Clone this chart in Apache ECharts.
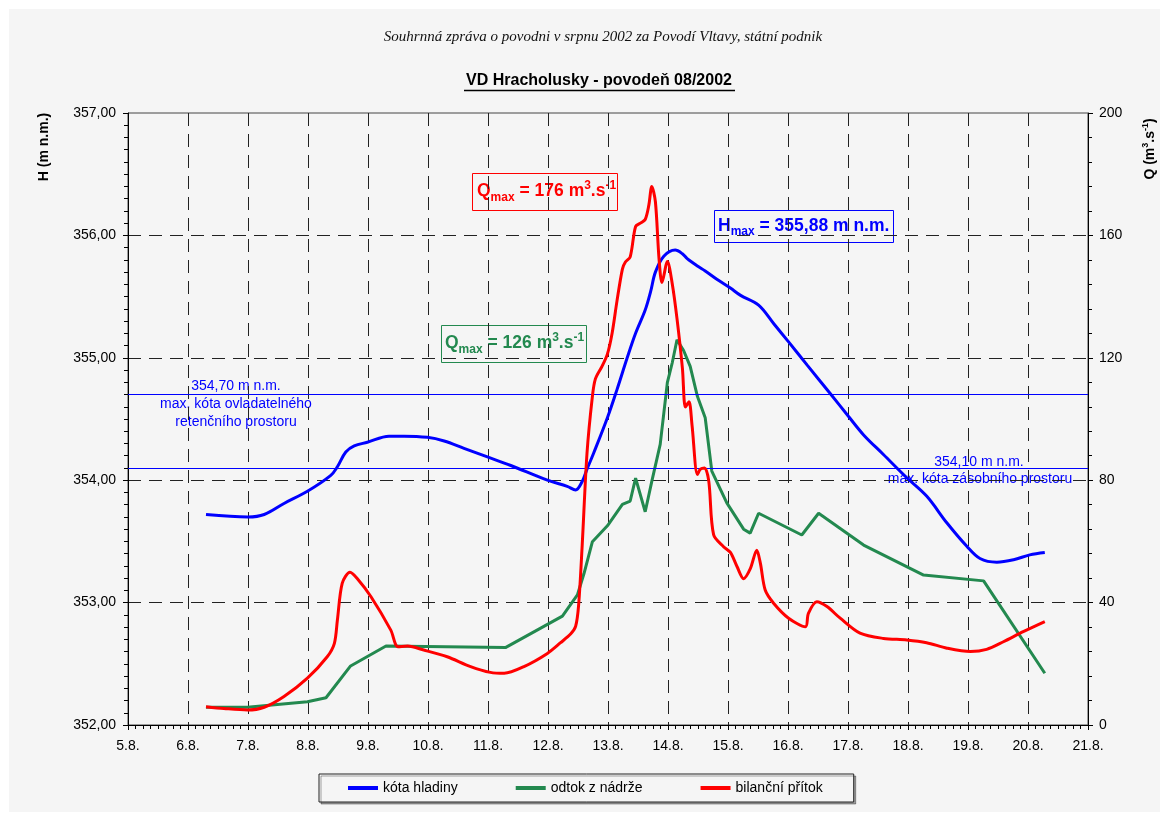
<!DOCTYPE html>
<html><head><meta charset="utf-8">
<script src="https://cdn.jsdelivr.net/npm/echarts@6/dist/echarts.min.js"></script>
<style>html,body{margin:0;padding:0;background:#fff}#c{width:1169px;height:814px}</style>
</head><body><div id="c"></div>
<script>
// ---- data (day of August 2002, value) ----
const dayTickLabels = ['5.8.','6.8.','7.8.','8.8.','9.8.','10.8.','11.8.','12.8.','13.8.','14.8.','15.8.','16.8.','17.8.','18.8.','19.8.','20.8.','21.8.'];

const levelDays = [6.30,7.00,7.27,7.60,7.99,8.38,8.49,8.63,8.77,8.99,9.35,9.60,9.99,10.27,10.60,10.99,11.38,11.99,12.32,12.46,12.57,12.65,12.76,12.99,13.15,13.32,13.46,13.62,13.71,13.79,13.93,14.12,14.24,14.32,14.49,14.62,14.82,15.04,15.21,15.51,15.76,16.01,16.32,16.70,17.01,17.26,17.59,17.98,18.31,18.65,18.98,19.20,19.48,19.76,20.03,20.28];
const levelValues = [353.72,353.70,353.72,353.81,353.91,354.04,354.11,354.23,354.28,354.31,354.36,354.36,354.35,354.32,354.26,354.19,354.12,354.00,353.95,353.92,353.99,354.09,354.22,354.51,354.74,355.00,355.20,355.39,355.54,355.70,355.83,355.88,355.85,355.81,355.75,355.71,355.64,355.57,355.51,355.43,355.28,355.13,354.94,354.71,354.52,354.37,354.21,354.02,353.87,353.65,353.46,353.36,353.33,353.35,353.39,353.41];

const outflowDays = [6.30,6.99,7.99,8.30,8.71,9.30,11.29,12.24,12.49,12.60,12.74,12.99,13.24,13.37,13.46,13.62,13.73,13.87,13.99,14.07,14.15,14.26,14.37,14.49,14.62,14.73,14.98,15.26,15.37,15.51,16.23,16.51,17.26,18.26,19.26,20.28];
const outflowValues = [5.8,5.8,7.6,8.9,19.3,25.8,25.3,35.6,42.5,49.5,59.9,65.1,72.1,73.2,80.7,69.7,79.6,91.7,112.0,118.3,125.9,122.4,117.2,107.4,100.4,83.0,72.6,64.0,62.7,69.2,62.1,69.2,58.8,49.0,47.1,16.9];

const inflowDays = [6.30,6.60,6.99,7.27,7.60,7.99,8.32,8.44,8.49,8.57,8.70,8.82,9.05,9.38,9.50,9.66,9.93,10.32,10.71,11.04,11.27,11.60,11.99,12.21,12.38,12.46,12.51,12.57,12.65,12.74,12.79,12.90,12.99,13.07,13.15,13.24,13.29,13.37,13.46,13.54,13.62,13.68,13.73,13.79,13.85,13.90,13.99,14.07,14.15,14.24,14.29,14.35,14.40,14.49,14.54,14.61,14.68,14.76,14.93,15.04,15.15,15.26,15.37,15.48,15.54,15.62,15.76,16.01,16.29,16.34,16.48,16.65,16.87,17.20,17.59,17.98,18.31,18.65,19.04,19.31,19.59,19.92,20.28];
const inflowValues = [6.0,5.4,4.9,5.8,9.3,15.3,22.3,26.7,34.3,46.3,49.9,47.9,41.9,31.0,25.6,25.8,24.5,22.3,19.1,17.2,16.9,19.1,23.4,26.9,29.8,32.2,39.1,58.8,88.8,107.4,113.1,117.2,121.2,128.2,138.6,149.0,151.3,153.0,162.9,164.0,165.2,169.8,176.0,171.0,152.5,144.6,151.5,144.3,132.8,116.6,103.9,105.6,98.1,81.9,83.6,84.0,79.6,62.2,58.2,56.4,51.8,47.8,51.0,57.1,52.8,44.1,39.8,34.9,32.1,36.5,40.3,38.7,34.9,30.0,28.3,27.8,26.9,25.1,24.0,24.7,27.2,30.5,33.8];

const refLevels = [354.70, 354.10];

const seriesNames = ['kóta hladiny', 'odtok z nádrže', 'bilanční přítok'];
// ---------------------------------------------

const zip = (xs, ys) => xs.map((x, i) => [x, ys[i]]);
const BLUE = '#0000ff', RED = '#ff0000', GREEN = '#23894f';
const FONT = '"Liberation Sans", Arial, sans-serif';
const dash = [13, 8];

const chart = echarts.init(document.getElementById('c'), null, {renderer: 'canvas'});

const supRich = (color) => ({
  b: {fontFamily: FONT, fontWeight: 'bold', fontSize: 17.5, fill: color, lineHeight: 24, verticalAlign: 'middle'},
  sub: {fontFamily: FONT, fontWeight: 'bold', fontSize: 12, fill: color, lineHeight: 21, verticalAlign: 'bottom'},
  sup: {fontFamily: FONT, fontWeight: 'bold', fontSize: 12, fill: color, lineHeight: 21, verticalAlign: 'top'}
});

const option = {
  backgroundColor: '#ffffff',
  animation: false,
  grid: {left: 128, top: 113, width: 960, height: 612, containLabel: false,
    show: true, borderColor: '#444', borderWidth: 1, backgroundColor: 'transparent'},
  legend: {
    data: seriesNames,
    left: 319, top: 774,
    padding: [7, 31, 7, 29],
    itemGap: 58, itemWidth: 30, itemHeight: 4,
    icon: 'rect',
    borderColor: '#222', borderWidth: 1,
    backgroundColor: '#f5f5f5',
    shadowColor: 'rgba(0,0,0,0.35)', shadowOffsetX: 2, shadowOffsetY: 2, shadowBlur: 0,
    textStyle: {fontFamily: FONT, fontSize: 14, color: '#000'}
  },
  xAxis: {
    type: 'value', min: 5, max: 21, interval: 1,
    axisLine: {show: true, lineStyle: {color: '#000', width: 1}},
    axisTick: {show: true, inside: false, length: 5, lineStyle: {color: '#000'}},
    minorTick: {show: true, splitNumber: 8, length: 4, lineStyle: {color: '#000'}},
    axisLabel: {margin: 14, fontFamily: FONT, fontSize: 14, color: '#000',
      formatter: v => dayTickLabels[Math.round(v - 5)]},
    splitLine: {show: true, showMinLine: false, showMaxLine: false, lineStyle: {color: '#222', width: 1, type: dash}}
  },
  yAxis: [{
    type: 'value', min: 352, max: 357, interval: 1, position: 'left',
    axisLine: {show: true, lineStyle: {color: '#000', width: 1}},
    axisTick: {show: true, inside: false, length: 5, lineStyle: {color: '#000'}},
    minorTick: {show: true, splitNumber: 10, length: 4, lineStyle: {color: '#000'}},
    axisLabel: {margin: 12, fontFamily: FONT, fontSize: 14, color: '#000',
      formatter: v => v.toFixed(2).replace('.', ',')},
    splitLine: {show: true, showMinLine: false, showMaxLine: false, lineStyle: {color: '#222', width: 1, type: dash}}
  }, {
    type: 'value', min: 0, max: 200, interval: 40, position: 'right',
    axisLine: {show: true, lineStyle: {color: '#000', width: 1}},
    axisTick: {show: true, inside: false, length: 5, lineStyle: {color: '#000'}},
    minorTick: {show: true, splitNumber: 5, length: 4, lineStyle: {color: '#000'}},
    axisLabel: {margin: 11, fontFamily: FONT, fontSize: 14, color: '#000'},
    splitLine: {show: false}
  }],
  series: [{
    name: seriesNames[0], type: 'line', yAxisIndex: 0,
    data: zip(levelDays, levelValues),
    smooth: 0.35, showSymbol: false, symbol: 'none',
    lineStyle: {color: BLUE, width: 3}, itemStyle: {color: BLUE},
    markLine: {
      silent: true, symbol: 'none', label: {show: false},
      lineStyle: {color: BLUE, width: 1, type: 'solid'},
      data: refLevels.map(v => ({yAxis: v}))
    },
    z: 3
  }, {
    name: seriesNames[1], type: 'line', yAxisIndex: 1,
    data: zip(outflowDays, outflowValues),
    smooth: false, showSymbol: false, symbol: 'none',
    lineStyle: {color: GREEN, width: 3}, itemStyle: {color: GREEN},
    z: 4
  }, {
    name: seriesNames[2], type: 'line', yAxisIndex: 1,
    data: zip(inflowDays, inflowValues),
    smooth: 0.3, showSymbol: false, symbol: 'none',
    lineStyle: {color: RED, width: 3}, itemStyle: {color: RED},
    z: 5
  }],
  graphic: [
    {type: 'rect', silent: true, z: -100, shape: {x: 9, y: 9, width: 1151, height: 803}, style: {fill: '#f5f5f5'}},
    {type: 'text', x: 603, y: 37, silent: true,
      style: {text: 'Souhrnná zpráva o povodni v srpnu 2002 za Povodí Vltavy, státní podnik', font: 'italic 15px "Liberation Serif", serif', fill: '#111', align: 'center', verticalAlign: 'middle'}},
    {type: 'text', x: 599, y: 81, silent: true,
      style: {text: 'VD Hracholusky - povodeň 08/2002', font: 'bold 16px ' + FONT, fill: '#000', align: 'center', verticalAlign: 'middle'}},
    {type: 'line', silent: true, shape: {x1: 464, y1: 90.5, x2: 735, y2: 90.5}, style: {stroke: '#000', lineWidth: 1.5}},
    {type: 'text', x: 44, y: 147, rotation: Math.PI / 2, silent: true,
      style: {text: 'H (m n.m.)', font: 'bold 14px ' + FONT, fill: '#000', align: 'center', verticalAlign: 'middle'}},
    {type: 'text', x: 1150, y: 149, rotation: Math.PI / 2, silent: true,
      style: {text: '{b|Q (m}{s|3}{b|.s}{s|-1}{b|)}', align: 'center', verticalAlign: 'middle',
        rich: {b: {font: 'bold 14px ' + FONT, fill: '#000', lineHeight: 18, verticalAlign: 'middle'},
               s: {font: 'bold 9px ' + FONT, fill: '#000', lineHeight: 18, verticalAlign: 'top'}}}},
    // reference level labels
    {type: 'text', x: 236, y: 386, silent: true, style: {text: '354,70 m n.m.', font: '14px ' + FONT, fill: BLUE, align: 'center', verticalAlign: 'middle'}},
    {type: 'text', x: 236, y: 404, silent: true, style: {text: 'max. kóta ovladatelného', font: '14px ' + FONT, fill: BLUE, align: 'center', verticalAlign: 'middle'}},
    {type: 'text', x: 236, y: 422, silent: true, style: {text: 'retenčního prostoru', font: '14px ' + FONT, fill: BLUE, align: 'center', verticalAlign: 'middle'}},
    {type: 'text', x: 979, y: 462, silent: true, style: {text: '354,10 m n.m.', font: '14px ' + FONT, fill: BLUE, align: 'center', verticalAlign: 'middle'}},
    {type: 'text', x: 980, y: 479, silent: true, style: {text: 'max. kóta zásobního prostoru', font: '14px ' + FONT, fill: BLUE, align: 'center', verticalAlign: 'middle'}},
    // max boxes
    {type: 'rect', silent: true, shape: {x: 472.5, y: 173.5, width: 145, height: 37}, style: {fill: 'none', stroke: RED, lineWidth: 1}},
    {type: 'text', x: 477, y: 191.5, silent: true,
      style: {text: '{b|Q}{sub|max}{b| = 176 m}{sup|3}{b|.s}{sup|-1}', align: 'left', verticalAlign: 'middle', rich: supRich(RED)}},
    {type: 'rect', silent: true, shape: {x: 714.5, y: 210.5, width: 179, height: 32}, style: {fill: 'none', stroke: BLUE, lineWidth: 1}},
    {type: 'text', x: 718, y: 226, silent: true,
      style: {text: '{b|H}{sub|max}{b| = 355,88 m n.m.}', align: 'left', verticalAlign: 'middle', rich: supRich(BLUE)}},
    {type: 'rect', silent: true, shape: {x: 441.5, y: 325.5, width: 145, height: 37}, style: {fill: 'none', stroke: GREEN, lineWidth: 1}},
    {type: 'text', x: 445, y: 343.5, silent: true,
      style: {text: '{b|Q}{sub|max}{b| = 126 m}{sup|3}{b|.s}{sup|-1}', align: 'left', verticalAlign: 'middle', rich: supRich(GREEN)}}
  ]
};
chart.setOption(option);
</script></body></html>
